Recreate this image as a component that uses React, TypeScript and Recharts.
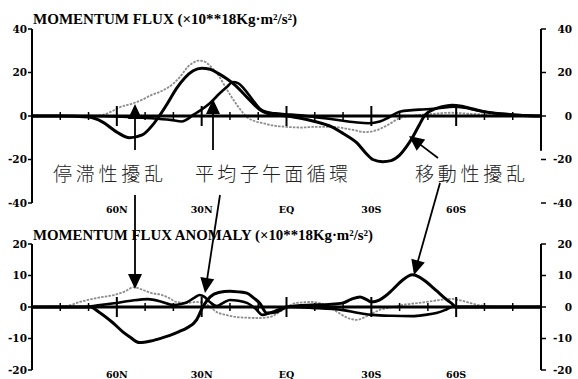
import React from 'react';
import { LineChart, Line, XAxis, YAxis, ReferenceLine } from 'recharts';

type P = [number, number];

// ---------- data ----------
const latTicks = [60, 30, 0, -30, -60];
const latTickLabels = ['60N', '30N', 'EQ', '30S', '60S'];
const minorLats = [80, 70, 50, 40, 20, 10, -10, -20, -40, -50, -70, -80];
const topYTicks = [40, 20, 0, -20, -40];
const bottomYTicks = [20, 10, 0, -10, -20];

const titleTop = 'MOMENTUM FLUX (×10**18Kg·m²/s²)';
const titleBottom = 'MOMENTUM FLUX ANOMALY (×10**18Kg·m²/s²)';
const labelStationary = '停滞性擾乱';
const labelMeanMeridional = '平均子午面循環';
const labelTransient = '移動性擾乱';

// top panel: momentum flux
const fluxTransient: P[] = [
  [90, 0], [80, 0], [70, -0.5], [65, -2.8], [60, -7.4], [55.5, -10], [51, -8.7], [47.3, -4.1],
  [45, 0], [42, 6], [39, 12.5], [36, 17.5], [33, 20.8], [30, 22], [27, 21.5], [24, 19.5],
  [21, 17], [18, 14], [15, 10], [12, 6], [9.5, 3], [7, 1.3], [4, 0.6], [0, 0], [-5, -1],
  [-10, -2.5], [-16, -5], [-20, -8], [-25, -12.5], [-28, -17], [-30.5, -20], [-34, -21],
  [-37, -20.5], [-40, -18], [-42.5, -14], [-44.5, -10], [-47, -4], [-49, 0.5], [-52, 3],
  [-55, 4.3], [-58.5, 5], [-62, 4.5], [-66, 3.2], [-70, 2], [-76, 1], [-82, 0.4], [-90, 0],
];
const fluxMeanMeridional: P[] = [
  [90, 0], [70, 0], [58, -0.3], [48, -1], [41, -1.8], [37, -2.5], [34.5, -1], [33, 0.5],
  [30, 3], [27, 6], [23.5, 10.6], [21, 13.5], [19, 15.6], [17, 15], [15, 12.5], [12, 7.5],
  [9.5, 3.5], [7, 1.8], [4, 1.2], [0, 0.8], [-5, 0.3], [-10, -0.5], [-15, -1.3], [-20, -2.2],
  [-25, -3], [-29, -3.3], [-33, -2.5], [-36, -0.8], [-40, 2], [-44.5, 2.7], [-48, 3],
  [-52, 3.3], [-55, 3.8], [-59, 4.3], [-63, 3.8], [-68, 2.5], [-74, 1.2], [-82, 0.4], [-90, 0],
];
const fluxStationary: P[] = [
  [90, 0], [70, 0], [65, 0.5], [62, 2], [59, 4], [55, 5.5], [51, 7.5], [48, 9.5], [45, 11],
  [42, 13], [39.5, 15.5], [37, 19], [35, 22.5], [33, 24.5], [31, 25.5], [29, 25], [27, 23],
  [24, 18.5], [21, 12], [17.5, 5], [14, -0.5], [11, -2.5], [8.5, -3.3], [4, -4.5], [0, -5],
  [-5, -5.3], [-10, -5], [-16, -5], [-22, -6], [-28, -7.4], [-32, -6.5], [-36, -4], [-40, -1],
  [-44, 0], [-47, 0.5], [-52, 1], [-58, 1.5], [-65, 1], [-75, 0.3], [-90, 0],
];

// bottom panel: momentum flux anomaly
const anomTransient: P[] = [
  [90, 0], [72, 0], [69.5, 0], [66, -1.8], [61.4, -5], [58, -7.8], [55.4, -9.5], [52, -11.3],
  [48, -10.8], [44, -9.8], [41, -8.9], [38, -7.8], [35.3, -6.7], [31.8, -4.1], [29.6, 0],
  [27, 3.2], [24, 4.6], [20, 5], [17, 4.8], [14, 4.4], [11.5, 2.8], [9.5, 1.3], [7, -1.9],
  [3.5, -1.6], [0, 0], [-9, 0.6], [-15, 0.8], [-20, 1.3], [-23, 2.5], [-26, 3.2], [-28, 2.5],
  [-30, 1.6], [-32.8, 2.2], [-35, 3.5], [-37.4, 5.4], [-41, 8.5], [-44.5, 10.2], [-47, 9.5],
  [-49.4, 8], [-52, 6], [-54, 4.4], [-56, 2.8], [-58.2, 1.3], [-60, 0], [-65, 0], [-90, 0],
];
const anomMeanMeridional: P[] = [
  [90, 0], [72, 0], [66, 0.6], [61, 1.2], [55, 2], [49, 2.5], [44, 1.6], [40, 0.6], [37, 1],
  [35, 1.6], [32.5, 3], [30.7, 3.8], [29, 3.2], [27, 1.5], [24.7, 0.3], [22, 1.5], [20, 2.2],
  [17, 2], [14, 1.3], [11, -0.5], [8.5, -2.5], [5, -1.6], [0, 0], [-9, -0.3], [-20, -1],
  [-25, -1.8], [-30.4, -2.5], [-37, -2.8], [-44.5, -2.9], [-49, -2.5], [-53, -1.9], [-56, -1],
  [-58.6, 0], [-90, 0],
];
const anomStationary: P[] = [
  [90, 0], [78, 0.3], [73, 1.6], [67, 2.9], [61, 3.8], [57, 5], [54, 6.3], [51, 5.5], [48, 4.5],
  [44, 3.8], [41, 2.6], [39, 1.6], [35, 1.3], [32, 1.6], [29, 1.2], [27, 0], [24.7, -1.6],
  [21, -2.6], [17.6, -3.2], [14, -3.4], [10.6, -3.5], [6, -3.2], [1.4, -1], [-3.5, 1.3],
  [-9, 1.6], [-15, 0], [-18, -1.6], [-21, -3.2], [-24.7, -4.1], [-27, -3.5], [-29.3, -2.5],
  [-32.8, -1], [-37.4, 0], [-42, 0.8], [-47, 1.3], [-54, 2.2], [-58, 2.6], [-61, 2.2],
  [-68, 0.6], [-75, 0], [-90, 0],
];

// ---------- helpers ----------
const pts = (a: P[]) => a.map(([lat, v]) => ({ lat, v }));
const fmtLat = (v: number) => latTickLabels[latTicks.indexOf(v)] ?? '';

const tickFont = { fontFamily: 'DejaVu Serif', fontWeight: 700, fontSize: 10.5, fill: '#000' };
const rightTickFont = { ...tickFont, textAnchor: 'end', dx: 26 };
const xTickFont = { fontFamily: 'DejaVu Serif', fontWeight: 700, fontSize: 9.5, fill: '#000' };

const W = 578;

function zeroTicks(unitsPerPx: number) {
  const small = 4 * unitsPerPx;
  const big = 10 * unitsPerPx;
  const els: any[] = [];
  minorLats.forEach((lat) =>
    els.push(
      <ReferenceLine
        key={'mi' + lat}
        yAxisId="l"
        segment={[{ x: lat, y: -small }, { x: lat, y: small }]}
        stroke="#000"
        strokeWidth={1.5}
      />
    )
  );
  latTicks.forEach((lat) =>
    els.push(
      <ReferenceLine
        key={'ma' + lat}
        yAxisId="l"
        segment={[{ x: lat, y: -big }, { x: lat, y: big }]}
        stroke="#000"
        strokeWidth={2}
      />
    )
  );
  return els;
}

function seriesLines(transient: P[], mmc: P[], stationary: P[]) {
  return [
    <Line
      key="st"
      yAxisId="l"
      data={pts(stationary)}
      dataKey="v"
      type="monotone"
      stroke="#8c8c8c"
      strokeWidth={1.8}
      strokeDasharray="2.5 1.2"
      dot={false}
      isAnimationActive={false}
    />,
    <Line
      key="mm"
      yAxisId="l"
      data={pts(mmc)}
      dataKey="v"
      type="monotone"
      stroke="#000"
      strokeWidth={2.6}
      dot={false}
      isAnimationActive={false}
    />,
    <Line
      key="tr"
      yAxisId="l"
      data={pts(transient)}
      dataKey="v"
      type="monotone"
      stroke="#000"
      strokeWidth={3}
      dot={false}
      isAnimationActive={false}
    />,
  ];
}

function Arrow({ from, tip }: { from: [number, number]; tip: [number, number] }) {
  const [fx, fy] = from;
  const [tx, ty] = tip;
  const dx = tx - fx;
  const dy = ty - fy;
  const len = Math.hypot(dx, dy);
  const ux = dx / len;
  const uy = dy / len;
  const headL = 15;
  const headW = 7;
  const bx = tx - ux * headL;
  const by = ty - uy * headL;
  const px = -uy;
  const py = ux;
  return (
    <g>
      <line x1={fx} y1={fy} x2={bx + ux * 2} y2={by + uy * 2} stroke="#000" strokeWidth={1.8} />
      <polygon
        points={`${tx},${ty} ${bx + px * headW},${by + py * headW} ${bx - px * headW},${by - py * headW}`}
        fill="#000"
      />
    </g>
  );
}

export default function App() {
  const topH = 216;
  const botTop = 216;
  const botH = 379 - 216;
  return (
    <div style={{ position: 'absolute', left: 0, top: 0, width: W, height: 379, background: '#fff', overflow: 'hidden' }}>
      <div style={{ position: 'absolute', left: 0, top: 0 }}>
        <LineChart width={W} height={topH} margin={{ top: 29, right: 4, bottom: 0, left: 4 }}>
          <XAxis
            type="number"
            dataKey="lat"
            domain={[-90, 90]}
            reversed
            ticks={latTicks}
            tickFormatter={fmtLat}
            axisLine={false}
            tickLine={false}
            tickSize={0}
            tickMargin={3}
            height={13}
            tick={xTickFont}
            allowDataOverflow
          />
          <YAxis
            yAxisId="l"
            orientation="left"
            width={28}
            domain={[-40, 40]}
            ticks={topYTicks}
            tickSize={4}
            tickMargin={1}
            axisLine={{ stroke: '#000', strokeWidth: 2 }}
            tickLine={{ stroke: '#000', strokeWidth: 1.5 }}
            tick={tickFont}
            allowDataOverflow
          />
          <YAxis
            yAxisId="r"
            orientation="right"
            width={33}
            domain={[-40, 40]}
            ticks={topYTicks}
            tickSize={5}
            tickMargin={0}
            axisLine={false}
            tickLine={{ stroke: '#000', strokeWidth: 1.5 }}
            tick={rightTickFont}
            allowDataOverflow
          />
          <ReferenceLine yAxisId="l" segment={[{ x: -90, y: 40 }, { x: -90, y: -16 }]} stroke="#000" strokeWidth={2} />
          {seriesLines(fluxTransient, fluxMeanMeridional, fluxStationary)}
          <ReferenceLine yAxisId="l" y={0} stroke="#000" strokeWidth={3} />
          {zeroTicks(80 / 174)}
        </LineChart>
      </div>
      <div style={{ position: 'absolute', left: 0, top: botTop }}>
        <LineChart width={W} height={botH} margin={{ top: 28, right: 4, bottom: 0, left: 4 }}>
          <XAxis
            type="number"
            dataKey="lat"
            domain={[-90, 90]}
            reversed
            ticks={latTicks}
            tickFormatter={fmtLat}
            axisLine={false}
            tickLine={false}
            tickSize={0}
            tickMargin={1}
            height={9}
            tick={xTickFont}
            allowDataOverflow
          />
          <YAxis
            yAxisId="l"
            orientation="left"
            width={28}
            domain={[-20, 20]}
            ticks={bottomYTicks}
            tickSize={4}
            tickMargin={1}
            axisLine={{ stroke: '#000', strokeWidth: 2 }}
            tickLine={{ stroke: '#000', strokeWidth: 1.5 }}
            tick={tickFont}
            allowDataOverflow
          />
          <YAxis
            yAxisId="r"
            orientation="right"
            width={33}
            domain={[-20, 20]}
            ticks={bottomYTicks}
            tickSize={5}
            tickMargin={0}
            axisLine={{ stroke: '#000', strokeWidth: 2 }}
            tickLine={{ stroke: '#000', strokeWidth: 1.5 }}
            tick={rightTickFont}
            allowDataOverflow
          />
          {seriesLines(anomTransient, anomMeanMeridional, anomStationary)}
          <ReferenceLine yAxisId="l" y={0} stroke="#000" strokeWidth={3} />
          {zeroTicks(40 / 126)}
        </LineChart>
      </div>
      <svg
        width={W}
        height={379}
        style={{ position: 'absolute', left: 0, top: 0, pointerEvents: 'none' }}
      >
        <text
          x={33}
          y={24}
          textLength={264}
          lengthAdjust="spacingAndGlyphs"
          fontFamily="Liberation Serif"
          fontWeight={700}
          fontSize={14}
          fill="#000"
        >
          {titleTop}
        </text>
        <text
          x={33}
          y={240}
          textLength={340}
          lengthAdjust="spacingAndGlyphs"
          fontFamily="Liberation Serif"
          fontWeight={700}
          fontSize={14}
          fill="#000"
        >
          {titleBottom}
        </text>
        <g fontFamily="'Noto Sans CJK JP'" fontSize={19} fontWeight={300} fill="#222">
          <text x={53} y={181} textLength={110} lengthAdjust="spacing">{labelStationary}</text>
          <text x={195} y={181} textLength={153} lengthAdjust="spacing">{labelMeanMeridional}</text>
          <text x={415} y={181} textLength={110} lengthAdjust="spacing">{labelTransient}</text>
        </g>
        <Arrow from={[135, 150]} tip={[135, 104]} />
        <Arrow from={[135, 195]} tip={[135, 289]} />
        <Arrow from={[213, 150]} tip={[213, 99]} />
        <Arrow from={[220, 195]} tip={[205, 293]} />
        <Arrow from={[438, 158]} tip={[409, 136]} />
        <Arrow from={[440, 183]} tip={[414, 275]} />
      </svg>
    </div>
  );
}
